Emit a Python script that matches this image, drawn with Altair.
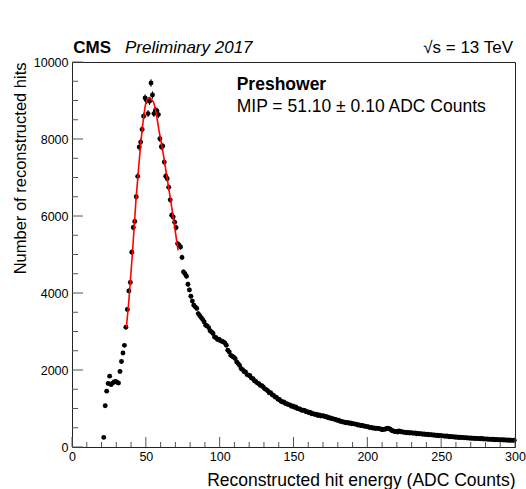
import altair as alt
import pandas as pd

# ---------------- data ----------------
bin_start = 21.5          # centre of the first filled bin (bin width 1 ADC count)

counts_peak = [
    250, 1070, 1450, 1650, 1840, 1620, 1660, 1690, 1705, 1680,
    1660, 1960, 2220, 2440, 2640, 3110, 3570, 4055, 4275, 5060,
    5700, 5860, 6500, 7030, 7790, 7920, 8250, 8590, 9065, 9005,
    8660, 8980, 9455, 9143, 8660, 8740, 8727, 8634, 8008, 7800,
    7815, 7400, 7031, 6970, 6744, 6420, 6018, 5974, 5840, 5699,
    5283, 5240,
]
counts_fall = [
    5195, 4925, 4545, 4500, 4434, 4226, 4080,
    3914, 3790, 3680, 3640, 3600, 3465, 3410, 3361, 3309, 3250,
    3161, 3145, 3101, 3020, 2987, 2950, 2857, 2840, 2790, 2800,
    2760, 2745, 2727, 2705, 2641, 2512, 2470, 2380, 2356, 2330,
    2296, 2210, 2166, 2120, 2036, 2010, 1960, 1948, 1880, 1862,
]
counts_mid = [
    1850, 1790, 1777, 1720, 1700, 1660, 1647, 1600, 1590, 1558,
    1510, 1491, 1460, 1410, 1410, 1360, 1340, 1299, 1290, 1240,
    1235, 1190, 1169, 1170, 1130, 1125, 1100, 1095, 1060, 1065,
    1030, 1040, 1000, 995, 980, 955, 953, 950, 915, 920,
    890, 895, 860, 868, 845, 850, 820, 830, 805, 815,
    805, 785, 785, 760, 760, 740, 738, 720, 718, 695,
    695, 670, 665, 649, 645, 630, 640, 615, 625, 605,
    608, 595, 595, 570, 575, 555, 560, 545, 540, 530,
]
counts_tail = [
    525, 505, 510, 494, 495, 480, 490, 478, 478, 455,
    450, 460, 468, 488, 480, 462, 430, 415, 400, 405,
    390, 416, 395, 395, 380, 385, 372, 378, 365, 372,
    364, 355, 362, 345, 352, 340, 345, 330, 338, 325,
    330, 318, 322, 320, 308, 312, 300, 306, 292, 298,
    288, 290, 278, 284, 278, 268, 274, 262, 268, 255,
    260, 248, 254, 244, 250, 238, 244, 232, 238, 228,
    234, 224, 228, 220, 224, 218, 214, 220, 208, 212,
    204, 208, 198, 204, 194, 200, 190, 195, 186, 192,
    184, 188, 180, 184, 176, 182, 174, 178, 172, 175,
]

fit_x = [36.8, 38.5, 40.9, 43.3, 45.0, 47.0, 48.5, 49.9, 51.2, 52.6,
         54.0, 55.5, 57.2, 58.9, 61.5, 63.9, 66.8, 69.2, 71.8]
fit_y = [3110, 3800, 5020, 6400, 7200, 8050, 8560, 8920, 9050, 9075,
         9020, 8920, 8620, 8226, 7680, 7100, 6410, 5800, 5110]

x_major = [0, 50, 100, 150, 200, 250, 300]
x_minor = [10, 20, 30, 40, 60, 70, 80, 90, 110, 120, 130, 140, 160, 170, 180, 190,
           210, 220, 230, 240, 260, 270, 280, 290]
y_major = [0, 2000, 4000, 6000, 8000, 10000]
y_minor = [500, 1000, 1500, 2500, 3000, 3500, 4500, 5000, 5500, 6500, 7000, 7500,
           8500, 9000, 9500]

# ---------------- tables ----------------
counts = counts_peak + counts_fall + counts_mid + counts_tail
hist = pd.DataFrame({"energy": [bin_start + i for i in range(len(counts))],
                     "hits": counts})
fit = pd.DataFrame({"energy": fit_x, "hits": fit_y})

W, H = 443, 385
FONT = "Liberation Sans"
xs = alt.Scale(domain=[0, 300], nice=False, zero=False)
ys = alt.Scale(domain=[0, 10000], nice=False)

xaxis = alt.Axis(values=x_major, format="d", ticks=False, domain=False, grid=False,
                 labelFlush=False, labelOverlap=False,
                 labelFontSize=12.5, labelFont=FONT, labelColor="black", labelPadding=3,
                 title="Reconstructed hit energy (ADC Counts)",
                 titleFont=FONT, titleFontSize=17.5, titleFontWeight="normal",
                 titleColor="black", titleX=W, titleY=38, titleAlign="right",
                 titleBaseline="alphabetic")
yaxis = alt.Axis(values=y_major, format="d", ticks=False, domain=False, grid=False,
                 labelFlush=False, labelOverlap=False,
                 labelFontSize=12.5, labelFont=FONT, labelColor="black", labelPadding=4,
                 title="Number of reconstructed hits",
                 titleFont=FONT, titleFontSize=16.5, titleFontWeight="normal",
                 titleColor="black", titleX=-47, titleY=0, titleAngle=270,
                 titleAlign="right", titleBaseline="alphabetic")

def X(field):
    return alt.X(field, scale=xs, axis=xaxis)

def Y(field):
    return alt.Y(field, scale=ys, axis=yaxis)

errbars = alt.Chart(hist).transform_calculate(
    lo="datum.hits - sqrt(datum.hits)", hi="datum.hits + sqrt(datum.hits)"
).mark_rule(color="black", strokeWidth=1).encode(
    x=X("energy:Q"), y=Y("lo:Q"), y2="hi:Q",
)

points = alt.Chart(hist).mark_circle(color="black", size=24, opacity=1).encode(
    x=X("energy:Q"), y=Y("hits:Q"),
)

fitline = alt.Chart(fit).mark_line(color="#ff0000", strokeWidth=1.6, interpolate="monotone").encode(
    x=X("energy:Q"), y=Y("hits:Q"),
)

tick_color = "#555555"
xmaj = alt.Chart(pd.DataFrame({"energy": x_major})).mark_rule(color=tick_color).encode(
    x=X("energy:Q"), y=alt.value(H), y2=alt.value(H - 10))
xmin = alt.Chart(pd.DataFrame({"energy": x_minor})).mark_rule(color=tick_color).encode(
    x=X("energy:Q"), y=alt.value(H), y2=alt.value(H - 5))
ymaj = alt.Chart(pd.DataFrame({"hits": y_major})).mark_rule(color=tick_color).encode(
    y=Y("hits:Q"), x=alt.value(0), x2=alt.value(11))
ymin = alt.Chart(pd.DataFrame({"hits": y_minor})).mark_rule(color=tick_color).encode(
    y=Y("hits:Q"), x=alt.value(0), x2=alt.value(6))

one = alt.Data(values=[{"a": 1}])
def label(txt, x, y, size, weight="normal", style="normal", align="left"):
    return alt.Chart(one).mark_text(
        text=txt, font=FONT, fontSize=size, fontWeight=weight, fontStyle=style,
        align=align, baseline="alphabetic", color="black"
    ).encode(x=alt.value(x), y=alt.value(y))

texts = [
    label("CMS", 1.3, -8.7, 17, weight="bold"),
    label("Preliminary 2017", 53, -8.7, 17, style="italic"),
    label("√s = 13 TeV", 441, -8.7, 17, align="right"),
    label("Preshower", 164.7, 28, 17.5, weight="bold"),
    label("MIP = 51.10 ± 0.10 ADC Counts", 164.7, 49.5, 17.5),
]

chart = alt.layer(points, errbars, fitline, xmaj, xmin, ymaj, ymin, *texts).properties(
    width=W, height=H,
    padding={"left": 72, "top": 62, "right": 11, "bottom": 42},
    autosize=alt.AutoSizeParams(type="none"),
    background="white",
).configure_view(stroke="#222222", strokeWidth=1)

chart.save("out.html", embed_options={"renderer": "svg", "actions": False})
